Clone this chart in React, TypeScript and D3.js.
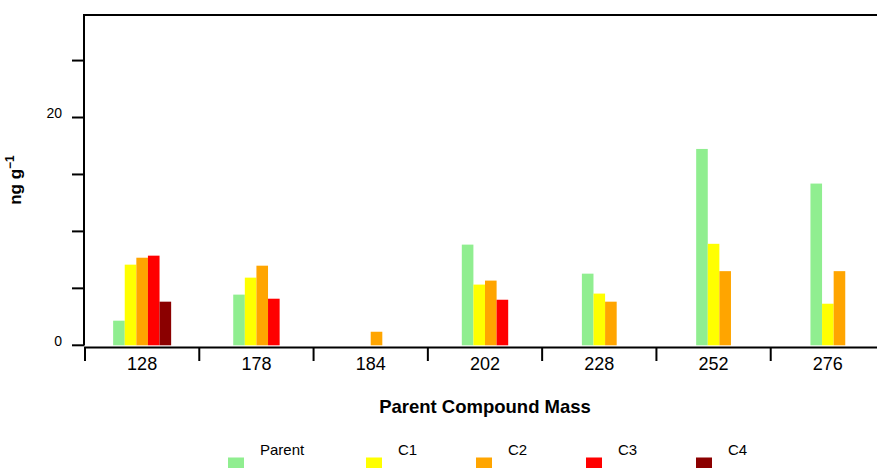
import React from "react";
import * as d3 from "d3";

const categories = ["128", "178", "184", "202", "228", "252", "276"];
const seriesNames = ["Parent", "C1", "C2", "C3", "C4"];
const seriesColors = ["#90EE90", "#FFFF00", "#FFA500", "#FF0000", "#8B0000"];
// null = no bar (series absent for that compound)
const parentValues: (number | null)[] = [2.16, 4.45, null, 8.84, 6.29, 17.24, 14.2];
const c1Values: (number | null)[] = [7.08, 5.94, 0, 5.33, 4.54, 8.91, 3.65];
const c2Values: (number | null)[] = [7.69, 6.99, 1.19, 5.68, 3.83, 6.51, 6.51];
const c3Values: (number | null)[] = [7.87, 4.09, null, 4.0, null, null, null];
const c4Values: (number | null)[] = [3.83, null, null, null, null, null, null];
const seriesValues = [parentValues, c1Values, c2Values, c3Values, c4Values];
const yTickValues = [0, 5, 10, 15, 20, 25];
const yTickLabels: Record<number, string> = { 0: "0", 20: "20" };
const yDomainMax = 29;

const W = 877;
const H = 468;
const FONT = "'Liberation Sans', Arial, Helvetica, sans-serif";

export default function App() {
  const x = d3.scaleBand<string>().domain(categories).range([85, 885]).padding(0);
  const y = d3.scaleLinear().domain([0, yDomainMax]).range([345.3, 15]);
  const bw = x.bandwidth() * 0.1015;
  const axisY = 347.5;

  const bars: React.ReactNode[] = [];
  categories.forEach((cat, ci) => {
    const present = seriesValues
      .map((vals, si) => ({ si, v: vals[ci] }))
      .filter((d) => d.v !== null) as { si: number; v: number }[];
    const center = (x(cat) as number) + x.bandwidth() / 2;
    const start = center - (present.length * bw) / 2;
    present.forEach((d, k) => {
      const top = y(d.v);
      const h = y(0) - top;
      if (h <= 0) return;
      bars.push(
        <rect
          key={`${cat}-${d.si}`}
          x={start + k * bw}
          y={top}
          width={bw}
          height={h}
          fill={seriesColors[d.si]}
        />
      );
    });
  });

  const boundaries = categories.map((c) => x(c) as number).concat([885]);

  // legend layout
  let lx = 228;
  const legendItems = seriesNames.map((name, i) => {
    const item = { name, color: seriesColors[i], x: lx };
    lx += 110 + (name.length - 2) * 7;
    return item;
  });

  return (
    <svg
      width={W}
      height={H}
      style={{ position: "absolute", left: 0, top: 0, background: "#fff" }}
      fontFamily={FONT}
    >
      <rect x={0} y={0} width={W} height={H} fill="#fff" />
      {bars}
      {/* frame top & left */}
      <line x1={84} x2={885} y1={15} y2={15} stroke="#000" strokeWidth={2} />
      <line x1={84} x2={84} y1={14} y2={345.5} stroke="#000" strokeWidth={2} />
      {/* y ticks */}
      {yTickValues.map((v) => (
        <g key={v}>
          <line x1={72} x2={84} y1={y(v)} y2={y(v)} stroke="#000" strokeWidth={2} />
          {yTickLabels[v] !== undefined && (
            <text x={62} y={y(v) + 0.5} textAnchor="end" fontSize={14} fill="#000">
              {yTickLabels[v]}
            </text>
          )}
        </g>
      ))}
      {/* x axis */}
      <line x1={84} x2={885} y1={axisY} y2={axisY} stroke="#000" strokeWidth={2} />
      {boundaries.map((b, i) => (
        <line key={i} x1={b} x2={b} y1={axisY} y2={361} stroke="#000" strokeWidth={2} />
      ))}
      {categories.map((c) => (
        <text
          key={c}
          x={(x(c) as number) + x.bandwidth() / 2}
          y={370}
          textAnchor="middle"
          fontSize={18}
          fill="#000"
        >
          {c}
        </text>
      ))}
      <text x={485} y={413} textAnchor="middle" fontSize={18.5} fontWeight="bold" fill="#000">
        Parent Compound Mass
      </text>
      <text
        transform={`translate(21,180) rotate(-90)`}
        textAnchor="middle"
        fontSize={17}
        fontWeight="bold"
        fill="#000"
      >
        ng g<tspan fontSize={12} dy={-7}>−1</tspan>
      </text>
      {/* legend */}
      {legendItems.map((it) => (
        <g key={it.name}>
          <rect x={it.x} y={457.5} width={16} height={14} fill={it.color} />
          <text x={it.x + 32} y={455} fontSize={15} fill="#000">
            {it.name}
          </text>
        </g>
      ))}
    </svg>
  );
}
